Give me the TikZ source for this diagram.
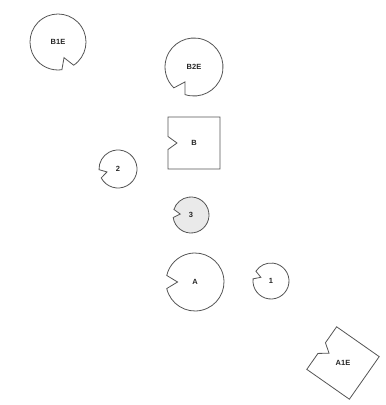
\documentclass[tikz,border=0pt]{standalone}
\usepackage{fontspec}
\setmainfont{Liberation Sans}
\usepackage{tikz}
\usetikzlibrary{calc}
\definecolor{ink}{RGB}{85,85,85}
\definecolor{lightgray2}{RGB}{234,234,234}
\tikzset{
  disc/.style={draw=ink, line width=0.8pt, fill=white},
  shadeddisc/.style={disc, fill=lightgray2},
  tag/.style={font=\fontsize{7.5}{9}\selectfont\bfseries, text=black!85, inner sep=0pt}
}
% notched circle: name, centre, radius, notch angle, label, style
\newcommand{\notchdisc}[6]{%
  \draw[#6] (#2) ++(#4+13:#3) arc[start angle=#4+13, end angle=#4+347, radius=#3]
    -- ($(#2)+(#4:{0.6*#3})$) -- cycle;
  \node[tag] (#1) at (#2) {#5};
}
% notched square: name, centre, rotation, label
\newcommand{\notchsquare}[4]{%
  \draw[disc, shift={(#2)}, rotate=#3] (-26,26) -- (26,26) -- (26,-26) -- (-26,-26)
    -- (-26,-6.5) -- (-17,0) -- (-26,6.5) -- cycle;
  \node[tag] (#1) at (#2) {#4};
}

\begin{document}
\begin{tikzpicture}[x=1pt, y=1pt]
\useasboundingbox (0,0) rectangle (386,405);

% Top
\notchdisc{bone}{58,363}{28}{-69}{B1E}{disc}
\notchdisc{btwo}{194,338}{29}{-121}{B2E}{disc}
\notchsquare{b}{194,262}{0}{B}

% Middle
\notchdisc{two}{118,236}{19}{195}{2}{disc}
\notchdisc{three}{191,190}{18}{175}{3}{shadeddisc}

% Bottom
\notchdisc{a}{195,123}{29}{180}{A}{disc}
\notchdisc{one}{271,124}{18}{160}{1}{disc}
\notchsquare{aone}{343,42}{-35}{A1E}
\end{tikzpicture}
\end{document}
